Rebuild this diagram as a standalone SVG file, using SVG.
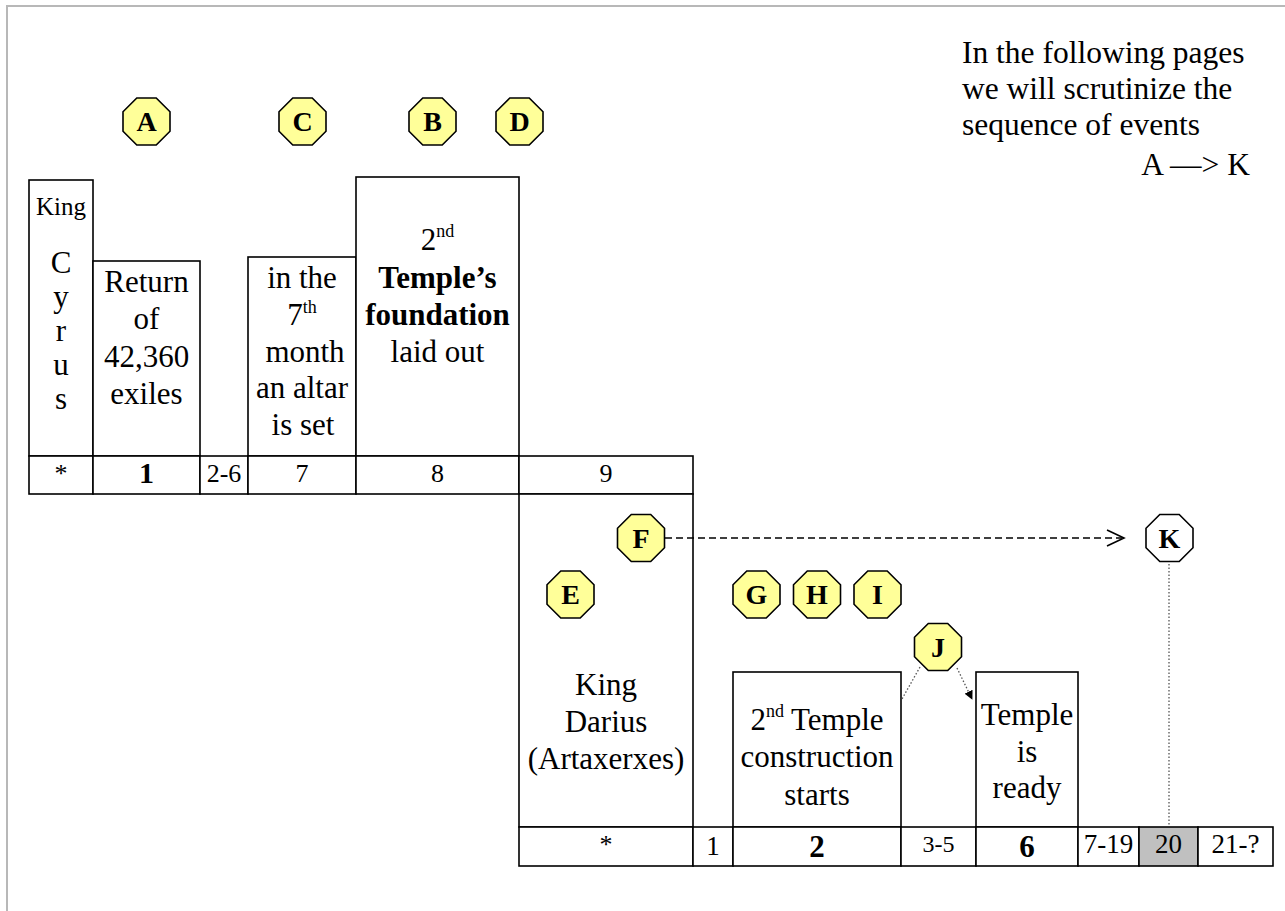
<svg xmlns="http://www.w3.org/2000/svg" width="1285" height="911" viewBox="0 0 1285 911">
<defs>
  <marker id="tri" viewBox="0 0 10 10" refX="9" refY="5" markerWidth="9" markerHeight="9" markerUnits="userSpaceOnUse" orient="auto">
    <path d="M0,0 L10,5 L0,10 Z" fill="#000"/>
  </marker>
  <polygon id="oct" points="-9.7,-23.5 9.7,-23.5 23.5,-9.7 23.5,9.7 9.7,23.5 -9.7,23.5 -23.5,9.7 -23.5,-9.7"/>
</defs>
<rect width="1285" height="911" fill="#fff"/>
<path d="M7,911 V6 H1285" fill="none" stroke="#b8b8b8" stroke-width="2"/>

<g id="note" fill="#000">
  <text font-family="Times New Roman, Liberation Serif, serif" font-size="31.5" x="962" y="63">In the following pages</text>
  <text font-family="Times New Roman, Liberation Serif, serif" font-size="31.5" x="962" y="99">we will scrutinize the</text>
  <text font-family="Times New Roman, Liberation Serif, serif" font-size="31.5" x="962" y="135">sequence of events</text>
  <text font-family="Times New Roman, Liberation Serif, serif" font-size="31.5" x="1250" y="175" text-anchor="end">A —&gt; K</text>
</g>

<!-- top timeline -->
<g id="cyrus" text-anchor="middle">
  <rect x="29" y="180" width="64" height="276" fill="#fff" stroke="#000" stroke-width="1.6"/>
  <text font-family="Times New Roman, Liberation Serif, serif" font-size="25" x="61" y="215">King</text>
  <text font-family="Times New Roman, Liberation Serif, serif" font-size="31" x="61" y="273">C</text>
  <text font-family="Times New Roman, Liberation Serif, serif" font-size="31" x="61" y="307">y</text>
  <text font-family="Times New Roman, Liberation Serif, serif" font-size="31" x="61" y="341">r</text>
  <text font-family="Times New Roman, Liberation Serif, serif" font-size="31" x="61" y="375">u</text>
  <text font-family="Times New Roman, Liberation Serif, serif" font-size="31" x="61" y="409">s</text>
</g>
<g id="return" text-anchor="middle">
  <rect x="93" y="261" width="107" height="195" fill="#fff" stroke="#000" stroke-width="1.6"/>
  <text font-family="Times New Roman, Liberation Serif, serif" font-size="31" x="146.5" y="292">Return</text>
  <text font-family="Times New Roman, Liberation Serif, serif" font-size="31" x="146.5" y="329">of</text>
  <text font-family="Times New Roman, Liberation Serif, serif" font-size="31" x="146.5" y="367">42,360</text>
  <text font-family="Times New Roman, Liberation Serif, serif" font-size="31" x="146.5" y="404">exiles</text>
</g>
<g id="altar" text-anchor="middle">
  <rect x="248" y="257" width="108" height="199" fill="#fff" stroke="#000" stroke-width="1.6"/>
  <text font-family="Times New Roman, Liberation Serif, serif" font-size="31" x="302" y="288">in the</text>
  <text font-family="Times New Roman, Liberation Serif, serif" font-size="31" x="302" y="325">7<tspan font-size="18" dy="-12">th</tspan></text>
  <text font-family="Times New Roman, Liberation Serif, serif" font-size="31" x="305" y="362">month</text>
  <text font-family="Times New Roman, Liberation Serif, serif" font-size="31" x="302" y="398">an altar</text>
  <text font-family="Times New Roman, Liberation Serif, serif" font-size="31" x="303" y="435">is set</text>
</g>
<g id="foundation" text-anchor="middle">
  <rect x="356" y="177" width="163" height="279" fill="#fff" stroke="#000" stroke-width="1.6"/>
  <text font-family="Times New Roman, Liberation Serif, serif" font-size="31" x="437.5" y="250">2<tspan font-size="18" dy="-13">nd</tspan></text>
  <text font-family="Times New Roman, Liberation Serif, serif" font-size="31" font-weight="bold" x="437.5" y="288">Temple’s</text>
  <text font-family="Times New Roman, Liberation Serif, serif" font-size="31" font-weight="bold" x="437.5" y="325">foundation</text>
  <text font-family="Times New Roman, Liberation Serif, serif" font-size="31" x="437.5" y="362">laid out</text>
</g>
<g id="years1" text-anchor="middle" fill="#fff" stroke="#000" stroke-width="1.6">
  <rect x="29" y="456" width="64" height="38"/>
  <rect x="93" y="456" width="107" height="38"/>
  <rect x="200" y="456" width="48" height="38"/>
  <rect x="248" y="456" width="108" height="38"/>
  <rect x="356" y="456" width="163" height="38"/>
  <rect x="519" y="456" width="174" height="38"/>
  <g fill="#000" stroke="none">
    <text font-family="Times New Roman, Liberation Serif, serif" font-size="26" x="61" y="482">*</text>
    <text font-family="Times New Roman, Liberation Serif, serif" font-size="30" font-weight="bold" x="146.5" y="483">1</text>
    <text font-family="Times New Roman, Liberation Serif, serif" font-size="26" x="224" y="482">2-6</text>
    <text font-family="Times New Roman, Liberation Serif, serif" font-size="26" x="302" y="482">7</text>
    <text font-family="Times New Roman, Liberation Serif, serif" font-size="26" x="437.5" y="482">8</text>
    <text font-family="Times New Roman, Liberation Serif, serif" font-size="26" x="606" y="482">9</text>
  </g>
</g>

<!-- bottom timeline -->
<g id="darius" text-anchor="middle">
  <rect x="519" y="494" width="174" height="333" fill="#fff" stroke="#000" stroke-width="1.6"/>
  <text font-family="Times New Roman, Liberation Serif, serif" font-size="31" x="606" y="695">King</text>
  <text font-family="Times New Roman, Liberation Serif, serif" font-size="31" x="606" y="732">Darius</text>
  <text font-family="Times New Roman, Liberation Serif, serif" font-size="31" x="606" y="769">(Artaxerxes)</text>
</g>
<g id="construction" text-anchor="middle">
  <rect x="733" y="672" width="168" height="155" fill="#fff" stroke="#000" stroke-width="1.6"/>
  <text font-family="Times New Roman, Liberation Serif, serif" font-size="31" x="817" y="730">2<tspan font-size="18" dy="-13">nd</tspan><tspan dy="13"> Temple</tspan></text>
  <text font-family="Times New Roman, Liberation Serif, serif" font-size="31" x="817" y="767">construction</text>
  <text font-family="Times New Roman, Liberation Serif, serif" font-size="31" x="817" y="805">starts</text>
</g>
<g id="ready" text-anchor="middle">
  <rect x="976" y="672" width="102" height="155" fill="#fff" stroke="#000" stroke-width="1.6"/>
  <text font-family="Times New Roman, Liberation Serif, serif" font-size="31" x="1027" y="725">Temple</text>
  <text font-family="Times New Roman, Liberation Serif, serif" font-size="31" x="1027" y="762">is</text>
  <text font-family="Times New Roman, Liberation Serif, serif" font-size="31" x="1027" y="798">ready</text>
</g>
<g id="years2" text-anchor="middle" fill="#fff" stroke="#000" stroke-width="1.6">
  <rect x="519" y="827" width="174" height="39"/>
  <rect x="693" y="827" width="40" height="39"/>
  <rect x="733" y="827" width="168" height="39"/>
  <rect x="901" y="827" width="75" height="39"/>
  <rect x="976" y="827" width="102" height="39"/>
  <rect x="1078" y="827" width="61" height="39"/>
  <rect x="1139" y="827" width="59" height="39" fill="#c0c0c0"/>
  <rect x="1198" y="827" width="75" height="39"/>
  <g fill="#000" stroke="none">
    <text font-family="Times New Roman, Liberation Serif, serif" font-size="26" x="606" y="853">*</text>
    <text font-family="Times New Roman, Liberation Serif, serif" font-size="27" x="713" y="855">1</text>
    <text font-family="Times New Roman, Liberation Serif, serif" font-size="31" font-weight="bold" x="817" y="857">2</text>
    <text font-family="Times New Roman, Liberation Serif, serif" font-size="24" x="938.5" y="852">3-5</text>
    <text font-family="Times New Roman, Liberation Serif, serif" font-size="31" font-weight="bold" x="1027" y="857">6</text>
    <text font-family="Times New Roman, Liberation Serif, serif" font-size="27" x="1108.5" y="853">7-19</text>
    <text font-family="Times New Roman, Liberation Serif, serif" font-size="27" x="1168.5" y="853">20</text>
    <text font-family="Times New Roman, Liberation Serif, serif" font-size="27" x="1235.5" y="853">21-?</text>
  </g>
</g>

<!-- connectors -->
<g id="connectors" fill="none">
  <line x1="665" y1="538" x2="1122" y2="538" stroke="#000" stroke-width="1.5" stroke-dasharray="7 4"/>
  <polyline points="1107,530 1124,538 1107,546" stroke="#000" stroke-width="1.6"/>
  <g stroke="#555" stroke-width="1.3" stroke-dasharray="1.5 2">
    <line x1="1169" y1="564" x2="1169" y2="826"/>
    <line x1="920" y1="667" x2="902" y2="699"/>
    <line x1="957" y1="668" x2="972" y2="699" marker-end="url(#tri)"/>
  </g>
</g>

<!-- event labels -->
<g id="labels" stroke="#000" stroke-width="1.6" fill="#ffff99" text-anchor="middle">
<g id="A"><use href="#oct" x="146.5" y="121.5"/><text font-family="Times New Roman, Liberation Serif, serif" font-size="28" font-weight="bold" fill="#000" stroke="none" x="146.5" y="131">A</text></g>
<g id="C"><use href="#oct" x="302.5" y="121.5"/><text font-family="Times New Roman, Liberation Serif, serif" font-size="28" font-weight="bold" fill="#000" stroke="none" x="302.5" y="131">C</text></g>
<g id="B"><use href="#oct" x="432.5" y="121.5"/><text font-family="Times New Roman, Liberation Serif, serif" font-size="28" font-weight="bold" fill="#000" stroke="none" x="432.5" y="131">B</text></g>
<g id="D"><use href="#oct" x="519.5" y="121.5"/><text font-family="Times New Roman, Liberation Serif, serif" font-size="28" font-weight="bold" fill="#000" stroke="none" x="519.5" y="131">D</text></g>
<g id="F"><use href="#oct" x="641" y="538"/><text font-family="Times New Roman, Liberation Serif, serif" font-size="28" font-weight="bold" fill="#000" stroke="none" x="641" y="547.5">F</text></g>
<g id="E"><use href="#oct" x="570.5" y="594.5"/><text font-family="Times New Roman, Liberation Serif, serif" font-size="28" font-weight="bold" fill="#000" stroke="none" x="570.5" y="604">E</text></g>
<g id="G"><use href="#oct" x="756.5" y="594.5"/><text font-family="Times New Roman, Liberation Serif, serif" font-size="28" font-weight="bold" fill="#000" stroke="none" x="756.5" y="604">G</text></g>
<g id="H"><use href="#oct" x="817" y="594.5"/><text font-family="Times New Roman, Liberation Serif, serif" font-size="28" font-weight="bold" fill="#000" stroke="none" x="817" y="604">H</text></g>
<g id="I"><use href="#oct" x="877.5" y="594.5"/><text font-family="Times New Roman, Liberation Serif, serif" font-size="28" font-weight="bold" fill="#000" stroke="none" x="877.5" y="604">I</text></g>
<g id="J"><use href="#oct" x="938" y="647"/><text font-family="Times New Roman, Liberation Serif, serif" font-size="28" font-weight="bold" fill="#000" stroke="none" x="938" y="656.5">J</text></g>
<g id="K"><use href="#oct" x="1169.5" y="538" fill="#fff"/><text font-family="Times New Roman, Liberation Serif, serif" font-size="28" font-weight="bold" fill="#000" stroke="none" x="1169.5" y="547.5">K</text></g>
</g>
</svg>
